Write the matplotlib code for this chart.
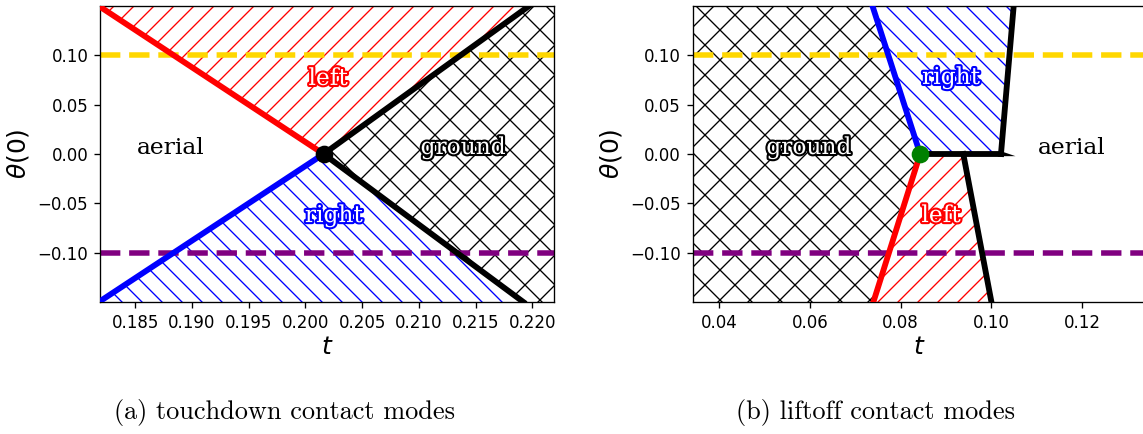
import numpy as np
import matplotlib
matplotlib.use("Agg")
import matplotlib.pyplot as plt
import matplotlib.patheffects as pe
from matplotlib.backend_bases import GraphicsContextBase

# ------------------------------------------------------------
# Contact-mode regions in the (t, theta(0)) plane
# ------------------------------------------------------------
theta_up = [0.0, 0.15]
theta_dn = [0.0, -0.15]

# (a) touchdown: boundaries start at the switching point and run to the edge
td_switch = (0.2016, 0.0)
td_red_t = [0.2016, 0.1818]       # aerial / left, theta > 0
td_blue_t = [0.2016, 0.1818]      # aerial / right, theta < 0
td_gnd_up_t = [0.2016, 0.2197]    # left / ground
td_gnd_dn_t = [0.2016, 0.2192]    # right / ground
td_xlim = (0.1819, 0.2219)
td_xticks = [0.185, 0.190, 0.195, 0.200, 0.205, 0.210, 0.215, 0.220]

# (b) liftoff
lo_switch = (0.0843, 0.0)
lo_blue_t = [0.0843, 0.0738]      # ground / right, theta > 0
lo_red_t = [0.0843, 0.0740]       # ground / left, theta < 0
lo_flat_t = [0.0843, 0.1021]      # right / left along theta = 0
lo_air_up_t = [0.1021, 0.1049]    # right / aerial
lo_air_dn_t = [0.0938, 0.1000]    # left / aerial
lo_spike_t = [0.1025, 0.1053, 0.1025]
lo_spike_th = [0.0022, -0.0022, -0.0022]
lo_xlim = (0.0342, 0.1342)
lo_xticks = [0.04, 0.06, 0.08, 0.10, 0.12]

yticks = [-0.10, -0.05, 0.00, 0.05, 0.10]
ylim = (-0.15, 0.15)
theta_hi = 0.1
theta_lo = -0.1

td_labels = {"aerial": (0.1881, 0.0), "ground": (0.2139, 0.0),
             "left": (0.2020, 0.070), "right": (0.2025, -0.069)}
lo_labels = {"aerial": (0.1178, 0.0), "ground": (0.0598, 0.0),
             "right": (0.0911, 0.071), "left": (0.0889, -0.069)}

captions = ["(a) touchdown contact modes", "(b) liftoff contact modes"]

# hatch spacing: single-direction hatches are denser than the ground cross-hatch
_hatch_path = GraphicsContextBase.get_hatch_path


def _hatch_path_custom(self, density=6.0):
    if self.get_hatch() == "x":
        return _hatch_path(self, 8.0)
    return _hatch_path(self, 12.0)


GraphicsContextBase.get_hatch_path = _hatch_path_custom

plt.rcParams["hatch.linewidth"] = 0.8
plt.rcParams["font.size"] = 10

W, H, DPI = 1143, 434, 120
fig = plt.figure(figsize=(W / DPI, H / DPI), dpi=DPI)
ax1 = fig.add_axes([100 / W, 1 - 302 / H, 454 / W, 296 / H])
ax2 = fig.add_axes([692.7 / W, 1 - 302 / H, 454 / W, 296 / H])

LW = 3.5


def hatch_fill(ax, th, x1, x2, color, hatch):
    ax.fill_betweenx(th, x1, x2, facecolor="none", edgecolor=color,
                     hatch=hatch, linewidth=0, zorder=1)


def label(ax, name, pos, color):
    if name == "aerial":
        ax.text(pos[0], pos[1], name, ha="center", family="DejaVu Serif",
                size=14, color="black", zorder=6)
    else:
        ax.text(pos[0], pos[1], name, ha="center", family="DejaVu Serif",
                size=14, color="white", zorder=6,
                path_effects=[pe.withStroke(linewidth=2.5, foreground=color)])


# ---------------- (a) touchdown ----------------
ax = ax1
hatch_fill(ax, theta_up, td_red_t, td_gnd_up_t, "red", "/")
hatch_fill(ax, theta_dn, td_blue_t, td_gnd_dn_t, "blue", "\\")
hatch_fill(ax, [theta_dn[1], 0.0, theta_up[1]],
           [td_gnd_dn_t[1], td_switch[0], td_gnd_up_t[1]], td_xlim[1], "black", "x")

ax.axhline(theta_hi, color="gold", ls="--", lw=3.3, zorder=2)
ax.axhline(theta_lo, color="purple", ls="--", lw=3.3, zorder=2)

ax.plot(td_red_t, theta_up, color="red", lw=LW, zorder=3)
ax.plot(td_blue_t, theta_dn, color="blue", lw=LW, zorder=3)
ax.plot(td_gnd_up_t, theta_up, color="black", lw=LW, zorder=3)
ax.plot(td_gnd_dn_t, theta_dn, color="black", lw=LW, zorder=3)
ax.plot(*td_switch, "o", color="black", ms=9.6, zorder=4)

label(ax, "aerial", td_labels["aerial"], "black")
label(ax, "ground", td_labels["ground"], "black")
label(ax, "left", td_labels["left"], "red")
label(ax, "right", td_labels["right"], "blue")

ax.set_xticks(td_xticks)
ax.set_xlim(*td_xlim)

# ---------------- (b) liftoff ----------------
ax = ax2
hatch_fill(ax, [theta_dn[1], 0.0, theta_up[1]], lo_xlim[0],
           [lo_red_t[1], lo_switch[0], lo_blue_t[1]], "black", "x")
hatch_fill(ax, theta_up, lo_blue_t, lo_air_up_t, "blue", "\\")
hatch_fill(ax, theta_dn, lo_red_t, lo_air_dn_t, "red", "/")

ax.axhline(theta_hi, color="gold", ls="--", lw=3.3, zorder=2)
ax.axhline(theta_lo, color="purple", ls="--", lw=3.3, zorder=2)

ax.plot(lo_blue_t, theta_up, color="blue", lw=LW, zorder=3)
ax.plot(lo_red_t, theta_dn, color="red", lw=LW, zorder=3)
ax.plot(lo_flat_t, [0.0, 0.0], color="black", lw=LW, zorder=3)
ax.plot(lo_air_up_t, theta_up, color="black", lw=LW, zorder=3)
ax.plot(lo_air_dn_t, theta_dn, color="black", lw=LW, zorder=3)
ax.fill(lo_spike_t, lo_spike_th, color="black", lw=0, zorder=3)
ax.plot(*lo_switch, "o", color="green", ms=9.6, zorder=4)

label(ax, "aerial", lo_labels["aerial"], "black")
label(ax, "ground", lo_labels["ground"], "black")
label(ax, "left", lo_labels["left"], "red")
label(ax, "right", lo_labels["right"], "blue")

ax.set_xticks(lo_xticks)
ax.set_xlim(*lo_xlim)

for ax in (ax1, ax2):
    ax.set_yticks(yticks)
    ax.set_ylim(*ylim)
    ax.set_xlabel(r"$t$", fontsize=15, labelpad=2)
    ax.set_ylabel(r"$\theta(0)$", fontsize=15)

fig.text(284 / W, 1 - 412 / H, captions[0], ha="center", va="center",
         family="cmr10", size=15.8)
fig.text(876 / W, 1 - 412 / H, captions[1], ha="center", va="center",
         family="cmr10", size=15.8)

fig.savefig("out.png", dpi=DPI)
